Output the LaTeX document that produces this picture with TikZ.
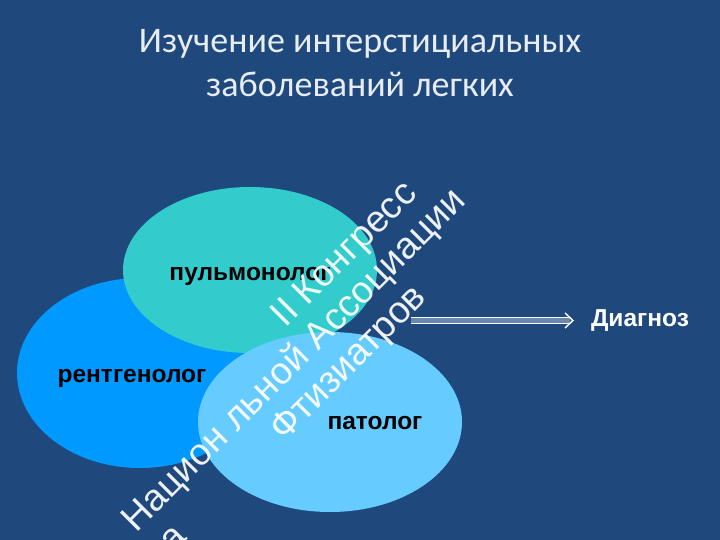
\documentclass[tikz,border=0pt]{standalone}
\usepackage{fontspec}
\setmainfont{Liberation Sans}
\newfontfamily\titlefont{Carlito}
\newfontfamily\labelfont{Liberation Sans}
\usetikzlibrary{arrows.meta}
\definecolor{bgblue}{RGB}{31,73,125}
\definecolor{tealc}{RGB}{51,204,204}
\definecolor{bluec}{RGB}{0,153,255}
\definecolor{lightc}{RGB}{102,204,255}
\definecolor{titlec}{RGB}{232,236,244}
\definecolor{arrowfill}{RGB}{105,135,175}
\tikzset{
  lbl/.style={font=\labelfont\bfseries\fontsize{24.5}{28}\selectfont, text=black, inner sep=0pt, anchor=base},
  wm/.style={font=\labelfont\fontsize{37.5}{41}\selectfont, text=white, text opacity=0.92, rotate=45, inner sep=0pt, anchor=base},
  ttl/.style={font=\titlefont\fontsize{36}{42}\selectfont, text=titlec, inner sep=0pt, anchor=base}
}
\begin{document}
\begin{tikzpicture}[x=1pt,y=-1pt]
\fill[bgblue] (0,0) rectangle (720,540);
\useasboundingbox (0,0) rectangle (720,540);
\begin{scope}
\clip (0,0) rectangle (720,540);
% ellipses
\fill[bluec] (140,373) ellipse [x radius=123, y radius=95];
\fill[tealc] (250,270) ellipse [x radius=127, y radius=83];
\fill[lightc] (330,422) ellipse [x radius=132, y radius=90];
% labels
\node[lbl] (pulm) at (250,280) {пульмонолог};
\node[lbl] (rent) at (132,382) {рентгенолог};
\node[lbl] (pat) at (375,429) {патолог};
% watermark
\node[wm] (w1) at (352,262) {II Конгресс};
\node[wm] (w2) at (302,368) {Национ льной Ассоциации};
\node[wm] (w3) at (356,371) {Фтизиатров};
\node[wm] (w4) at (181,546) {а};
\end{scope}
% title
\node[ttl] (t1) at (360,53) {Изучение интерстициальных};
\node[ttl] (t2) at (360,97) {заболеваний легких};
% diagnosis
\node[lbl, text=white] (diag) at (640,326) {Диагноз};
\coordinate (as) at (411,320.5);
\coordinate (ae) at (573,320.5);
\draw[white, line width=0.9pt, double=arrowfill, double distance=4.5pt] (as) -- ([xshift=-3pt]ae);
\draw[white, line width=1.4pt] ([xshift=-8pt,yshift=-7.5pt]ae) -- (ae) -- ([xshift=-8pt,yshift=7.5pt]ae);
\end{tikzpicture}
\end{document}
